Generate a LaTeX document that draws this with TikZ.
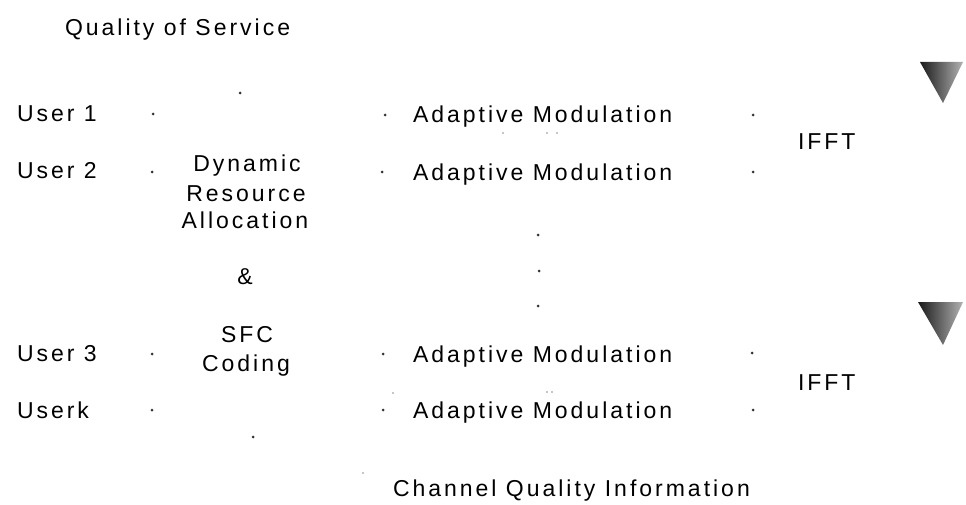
\documentclass[tikz,border=0pt]{standalone}
\usepackage{fontspec}
\setmainfont{Liberation Sans}[LetterSpace=13]
\begin{document}
\begin{tikzpicture}[x=1pt,y=-1pt,
  lbl/.style={inner sep=0pt,outer sep=0pt,font=\fontsize{23}{27}\selectfont,text=black},
  lw/.style={lbl,anchor=base west},
  lc/.style={lbl,anchor=base},
  tip/.style={fill=black!80,draw=none},
  faint/.style={fill=black!45,draw=none},
  antenna/.style={left color=black!90,right color=black!30,draw=none}]
\useasboundingbox (0,0) rectangle (966,505);

% texts
\node[lw] (qos) at (65,36) {Quality of Service};
\node[lw] (u1) at (17,122) {User 1};
\node[lw] (u2) at (17,179) {User 2};
\node[lw] (u3) at (17,361) {User 3};
\node[lw] (uk) at (17,418) {Userk};

\node[lc] (dra1) at (247,172) {Dynamic};
\node[lc] (dra2) at (246,202) {Resource};
\node[lc] (dra3) at (245,229) {Allocation};
\node[lc] (amp)  at (245,284) {\&};
\node[lc] (sfc1) at (247,342) {SFC};
\node[lc] (sfc2) at (246,371) {Coding};

\node[lw] (am1) at (413,123) {Adaptive Modulation};
\node[lw] (am2) at (413,181) {Adaptive Modulation};
\node[lw] (am3) at (413,362) {Adaptive Modulation};
\node[lw] (am4) at (413,418) {Adaptive Modulation};

\node[lw] (ifft1) at (798,150) {IFFT};
\node[lw] (ifft2) at (798,390) {IFFT};

\node[lw] (cqi) at (393,496) {Channel Quality Information};

% antennas
\shade[antenna] (920,62) -- (963,62) -- (943,103) -- cycle;
\shade[antenna] (918,302) -- (963,302) -- (943,345) -- cycle;

% remnants of arrow tips
\foreach \p in {(240,93),(153,114),(385,115),(152,172),(382,172),
                (753,115),(753,172),(538,235),(539,271),(538,306),
                (152,354),(383,354),(152,410),(383,410),(253,437),
                (752,353),(753,410)}
  \fill[tip] \p circle (1.5);
\foreach \p in {(503,133),(547,133),(557,133),(393,393),(363,473),
                (547,392),(552,392)}
  \fill[faint] \p circle (0.8);
\end{tikzpicture}
\end{document}
